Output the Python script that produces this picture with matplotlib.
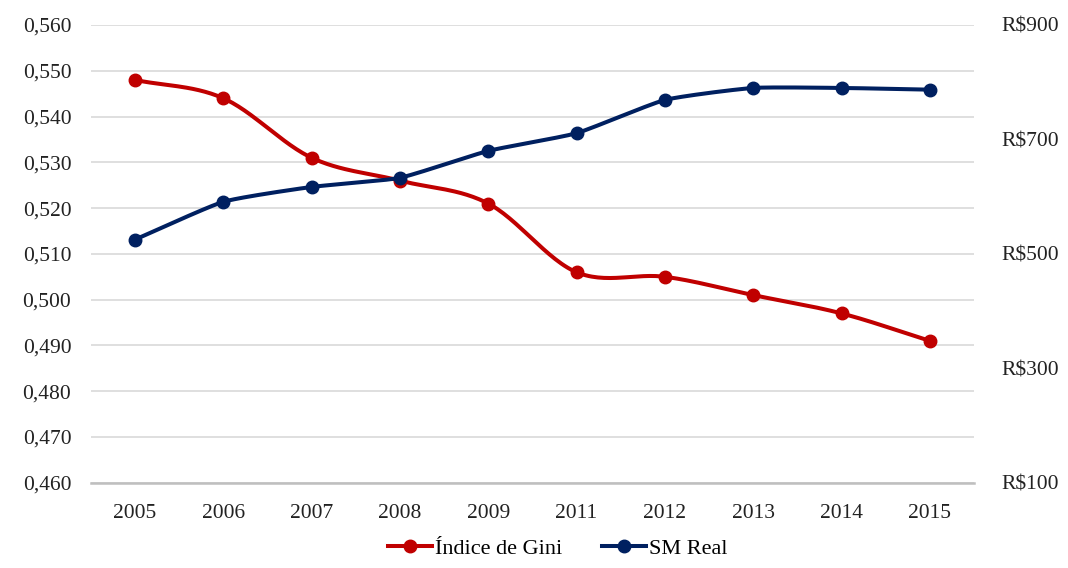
import numpy as np
import matplotlib
matplotlib.use("Agg")
import matplotlib.pyplot as plt
from matplotlib.ticker import FuncFormatter, MultipleLocator, FixedLocator
from matplotlib.lines import Line2D

plt.rcParams['font.family'] = ['Liberation Serif', 'DejaVu Serif']

anos = ["2005", "2006", "2007", "2008", "2009", "2011", "2012", "2013", "2014", "2015"]
gini = [0.548, 0.544, 0.531, 0.526, 0.521, 0.506, 0.505, 0.501, 0.497, 0.491]
sm_real = [525, 591, 617, 633, 680, 711, 769, 790, 790, 787]

RED = "#C00000"
BLUE = "#002060"
LW = 2.9
MS = 9


def smooth(x, y, n=30, tension=0.5):
    """Cardinal spline through the points (similar to spreadsheet smoothed lines)."""
    x = np.asarray(x, float)
    y = np.asarray(y, float)
    px = np.concatenate([[2 * x[0] - x[1]], x, [2 * x[-1] - x[-2]]])
    py = np.concatenate([[2 * y[0] - y[1]], y, [2 * y[-1] - y[-2]]])
    xs, ys = [], []
    t = np.linspace(0, 1, n)
    for i in range(1, len(px) - 2):
        p0, p1, p2, p3 = (np.array([px[j], py[j]]) for j in range(i - 1, i + 3))
        m1 = (p2 - p0) * tension
        m2 = (p3 - p1) * tension
        h00 = 2 * t**3 - 3 * t**2 + 1
        h10 = t**3 - 2 * t**2 + t
        h01 = -2 * t**3 + 3 * t**2
        h11 = t**3 - t**2
        seg = (np.outer(h00, p1) + np.outer(h10, m1) + np.outer(h01, p2) + np.outer(h11, m2))
        xs.append(seg[:, 0])
        ys.append(seg[:, 1])
    return np.concatenate(xs), np.concatenate(ys)


fig = plt.figure(figsize=(10.68, 5.68), dpi=100)
ax = fig.add_axes([0.085, 0.150, 0.827, 0.806])
ax2 = ax.twinx()

x = np.arange(len(anos))

# left axis: Gini index
ax.set_ylim(0.46, 0.56)
ax.yaxis.set_major_locator(MultipleLocator(0.01))
ax.yaxis.set_major_formatter(FuncFormatter(lambda v, p: f"{v:.3f}".replace(".", ",")))
ax.set_xlim(-0.5, len(anos) - 0.5)
ax.set_xticks(x)
ax.set_xticklabels(anos)
ax.grid(axis='y', color='#D9D9D9', linewidth=1.2)
ax.set_axisbelow(True)

# right axis: real minimum wage
ax2.set_ylim(100, 900)
ax2.yaxis.set_major_locator(FixedLocator([100, 300, 500, 700, 900]))
ax2.yaxis.set_major_formatter(FuncFormatter(lambda v, p: f"R${v:.0f}"))

for a in (ax, ax2):
    for s in a.spines.values():
        s.set_visible(False)
    a.tick_params(length=0, labelsize=15.5, colors='#222222')
ax.spines['bottom'].set_visible(True)
ax.spines['bottom'].set_color('#BFBFBF')
ax.spines['bottom'].set_linewidth(1.8)
ax.tick_params(axis='y', pad=14)
ax.tick_params(axis='x', pad=15)
ax2.tick_params(axis='y', pad=20)

sx, sy = smooth(x, gini)
ax.plot(sx, sy, color=RED, linewidth=LW, solid_capstyle='round', zorder=3)
ax.plot(x, gini, 'o', color=RED, markersize=MS, zorder=4)

bx, by = smooth(x, sm_real, tension=0.25)
ax2.plot(bx, by, color=BLUE, linewidth=LW, solid_capstyle='round', zorder=3)
ax2.plot(x, sm_real, 'o', color=BLUE, markersize=MS, zorder=4)

handles = [
    Line2D([], [], color=RED, linewidth=LW, marker='o', markersize=MS),
    Line2D([], [], color=BLUE, linewidth=LW, marker='o', markersize=MS),
]
fig.legend(handles, ["Índice de Gini", "SM Real"], loc='center', bbox_to_anchor=(0.522, 0.034),
           ncol=2, frameon=False, fontsize=16, handlelength=2.0, handletextpad=0.1,
           columnspacing=1.8)

fig.savefig("out.png", dpi=100)
